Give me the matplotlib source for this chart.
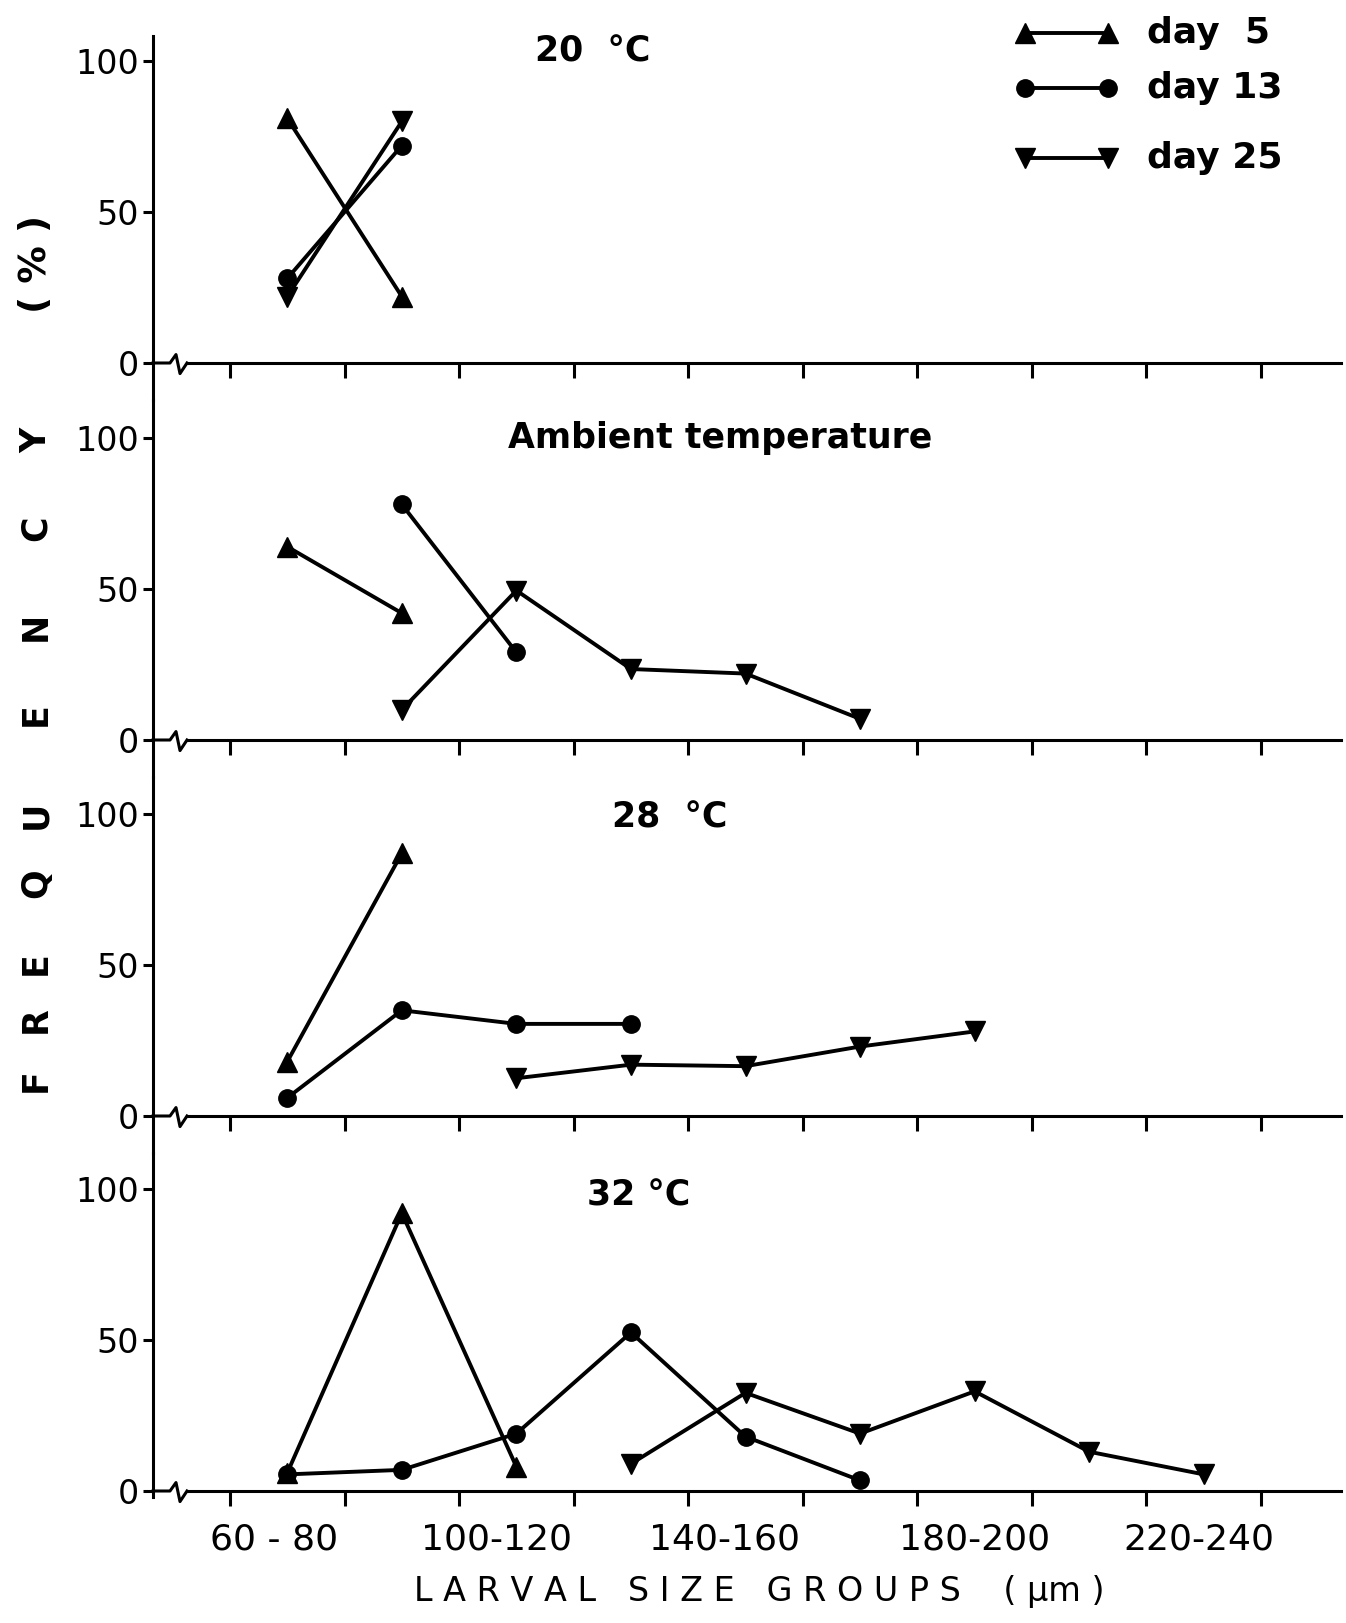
import matplotlib
matplotlib.use("Agg")
import matplotlib.pyplot as plt
from matplotlib.lines import Line2D

plt.rcParams['font.family'] = ['DejaVu Sans']

# size groups: tick marks at class limits, points at class midpoints
class_limits = [60, 80, 100, 120, 140, 160, 180, 200, 220, 240]
label_pos = [67.7, 106.5, 146.3, 189.9, 229.2]
label_txt = ["60 - 80", "100-120", "140-160", "180-200", "220-240"]

titles = ["20  °C", "Ambient temperature", "28  °C", "32 °C"]
title_xy = [(123.4, 103), (145.6, 100), (136.8, 99), (131.3, 98)]

# day 5
d5_x = [[70, 90], [70, 90], [70, 90], [70, 90, 110]]
d5_y = [[81, 22], [64, 42], [18, 87], [6, 92, 8]]
# day 13
d13_x = [[70, 90], [90, 110], [70, 90, 110, 130], [70, 90, 110, 130, 150, 170]]
d13_y = [[28, 72], [78, 29], [6, 35, 30.5, 30.5], [5.5, 7, 19, 52.5, 18, 3.5]]
# day 25
d25_x = [[70, 90], [90, 110, 130, 150, 170], [110, 130, 150, 170, 190],
         [130, 150, 170, 190, 210, 230]]
d25_y = [[22, 80], [10, 49.5, 23.5, 22, 7], [12.5, 17, 16.5, 23, 28],
         [9, 32.5, 19, 33, 13, 5.5]]

legend_txt = ["day  5", "day 13", "day 25"]
markers = ["^", "o", "v"]
msizes = [15, 12.5, 15]

W, H = 1346, 1623
fig = plt.figure(figsize=(W / 100, H / 100), dpi=100)

# layout in pixels
zero_px = [363, 740, 1116, 1491]
bounds_px = [36, 400, 777, 1153, 1497]
scale = 3.02          # px per percent
left_px, right_px = 153, 1341
x_px_per = 5.728      # px per um
xmin = 60 - (230 - left_px) / x_px_per
xmax = 60 + (right_px - 230) / x_px_per

lw = 2.8
axes = []
for k in range(4):
    top, bot = bounds_px[k], bounds_px[k + 1]
    ax = fig.add_axes([left_px / W, 1 - bot / H, (right_px - left_px) / W, (bot - top) / H])
    ax.set_xlim(xmin, xmax)
    ax.set_ylim(-(bot - zero_px[k]) / scale, (zero_px[k] - top) / scale)
    ax.patch.set_alpha(0)
    for s in ['top', 'right']:
        ax.spines[s].set_visible(False)
    ax.spines['left'].set_linewidth(2.2)
    ax.spines['bottom'].set_linewidth(2.2)
    ax.spines['bottom'].set_position(('data', 0))
    brk_end = 60 - (230 - 187) / x_px_per
    ax.spines['bottom'].set_bounds(brk_end, xmax)
    # axis break mark
    bx = [xmin, 60 - (230 - 170) / x_px_per, 60 - (230 - 176) / x_px_per,
          60 - (230 - 180) / x_px_per, brk_end]
    by = [0, 0, 2.8, -3.5, 0]
    ax.plot(bx, by, color='black', lw=2.2, clip_on=False, solid_joinstyle='round')

    ax.set_yticks([0, 50, 100])
    ax.set_yticklabels(["0", "50", "100"])
    ax.set_xticks(class_limits)
    ax.set_xticklabels([])
    ax.tick_params(axis='y', direction='out', length=7, width=2.2, labelsize=24, pad=3)
    ax.tick_params(axis='x', which='major', direction='out', length=11, width=2.2)

    ax.plot(d5_x[k], d5_y[k], color='black', lw=lw, marker=markers[0], ms=msizes[0], clip_on=False)
    ax.plot(d13_x[k], d13_y[k], color='black', lw=lw, marker=markers[1], ms=msizes[1], clip_on=False)
    ax.plot(d25_x[k], d25_y[k], color='black', lw=lw, marker=markers[2], ms=msizes[2], clip_on=False)

    ax.text(title_xy[k][0], title_xy[k][1], titles[k], ha='center', va='center',
            fontsize=25, fontweight='bold')
    axes.append(ax)

# bottom labels
axes[3].set_xticks(label_pos, minor=True)
axes[3].set_xticklabels(label_txt, minor=True)
axes[3].tick_params(axis='x', which='minor', length=0, pad=23, labelsize=26)

fig.text(759 / W, 1 - 1591 / H, "L A R V A L   S I Z E   G R O U P S    ( μm )",
         ha='center', va='center', fontsize=24)

# vertical axis title, letter by letter
letters = ["F", "R", "E", "Q", "U", "E", "N", "C", "Y"]
letter_y = [1080, 1020, 963, 883, 815, 714, 626, 528, 440]
for ch, yy in zip(letters, letter_y):
    fig.text(36 / W, 1 - yy / H, ch, rotation=90, ha='center', va='center',
             fontsize=25, fontweight='bold')
fig.text(36 / W, 1 - 264 / H, "( % )", rotation=90, ha='center', va='center',
         fontsize=27, fontweight='bold')

# legend drawn by hand
leg_y = [33, 88, 158]
for i in range(3):
    y = 1 - leg_y[i] / H
    fig.add_artist(Line2D([1025 / W, 1108 / W], [y, y], color='black', lw=lw,
                          marker=markers[i], ms=msizes[i], transform=fig.transFigure))
    fig.text(1147 / W, y, legend_txt[i], ha='left', va='center', fontsize=26, fontweight='bold')

fig.savefig("out.png", dpi=100)
